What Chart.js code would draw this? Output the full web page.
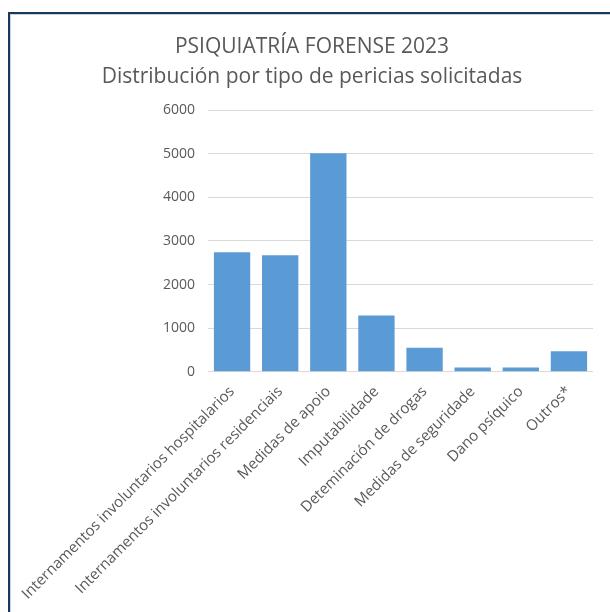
<!DOCTYPE html>
<html>
<head>
<meta charset="utf-8">
<script src="https://cdn.jsdelivr.net/npm/chart.js@4"></script>
<style>
    body { margin: 0; background: #fff; }
    #frame {
        position: absolute;
        left: 8px;
        top: 12px;
        width: 602px;
        height: 600px;
        border-top: 2px solid #173a5c;
        border-left: 2px solid #173a5c;
        box-shadow: inset 1px 1px 0 #d0d0d0;
    }
    #wrap { position: absolute; left: 2px; top: 2px; width: 600px; height: 598px; }
</style>
</head>
<body>
<div id="frame"><div id="wrap"><canvas id="chart"></canvas></div></div>
<script>
// Pericias solicitadas por tipo
const categories = [
    'Internamentos involuntarios hospitalarios',
    'Internamentos involuntarios residenciais',
    'Medidas de apoio',
    'Imputabilidade',
    'Deteminación de drogas',
    'Medidas de seguridade',
    'Dano psíquico',
    'Outros*'
];
const values = [2740, 2670, 5010, 1290, 550, 100, 100, 470];
const yTicks = [0, 1000, 2000, 3000, 4000, 5000, 6000];

const fontFamily = "'Open Sans', sans-serif";
const textColor = '#595959';

const ctx = document.getElementById('chart').getContext('2d');
new Chart(ctx, {
    type: 'bar',
    data: {
        labels: categories,
        datasets: [{
            data: values,
            backgroundColor: '#5b9bd5',
            categoryPercentage: 1,
            barPercentage: 0.755
        }]
    },
    options: {
        responsive: true,
        maintainAspectRatio: false,
        animation: false,
        layout: { padding: { top: 16, right: 19, left: 19, bottom: 8 } },
        plugins: {
            legend: { display: false },
            tooltip: { enabled: false },
            title: {
                display: true,
                text: ['PSIQUIATRÍA FORENSE 2023', 'Distribución por tipo de pericias solicitadas'],
                color: textColor,
                font: { family: fontFamily, size: 21, weight: 'normal', lineHeight: 1.43 },
                padding: { top: 0, bottom: 18 }
            }
        },
        scales: {
            x: {
                grid: { display: false },
                border: { display: false },
                afterFit: axis => { axis.paddingLeft = 0; axis.paddingRight = 0; },
                ticks: {
                    color: textColor,
                    font: { family: fontFamily, size: 15 },
                    minRotation: 45,
                    maxRotation: 45,
                    autoSkip: false
                }
            },
            y: {
                min: 0,
                max: 6000,
                afterBuildTicks: axis => { axis.ticks = yTicks.map(v => ({ value: v })); },
                afterFit: axis => { axis.width = 177; },
                grid: { color: '#d9d9d9', lineWidth: 1, drawTicks: false },
                border: { display: false },
                ticks: {
                    color: textColor,
                    font: { family: fontFamily, size: 14 },
                    padding: 13,
                    callback: v => String(v)
                }
            }
        }
    }
});
</script>
</body>
</html>
